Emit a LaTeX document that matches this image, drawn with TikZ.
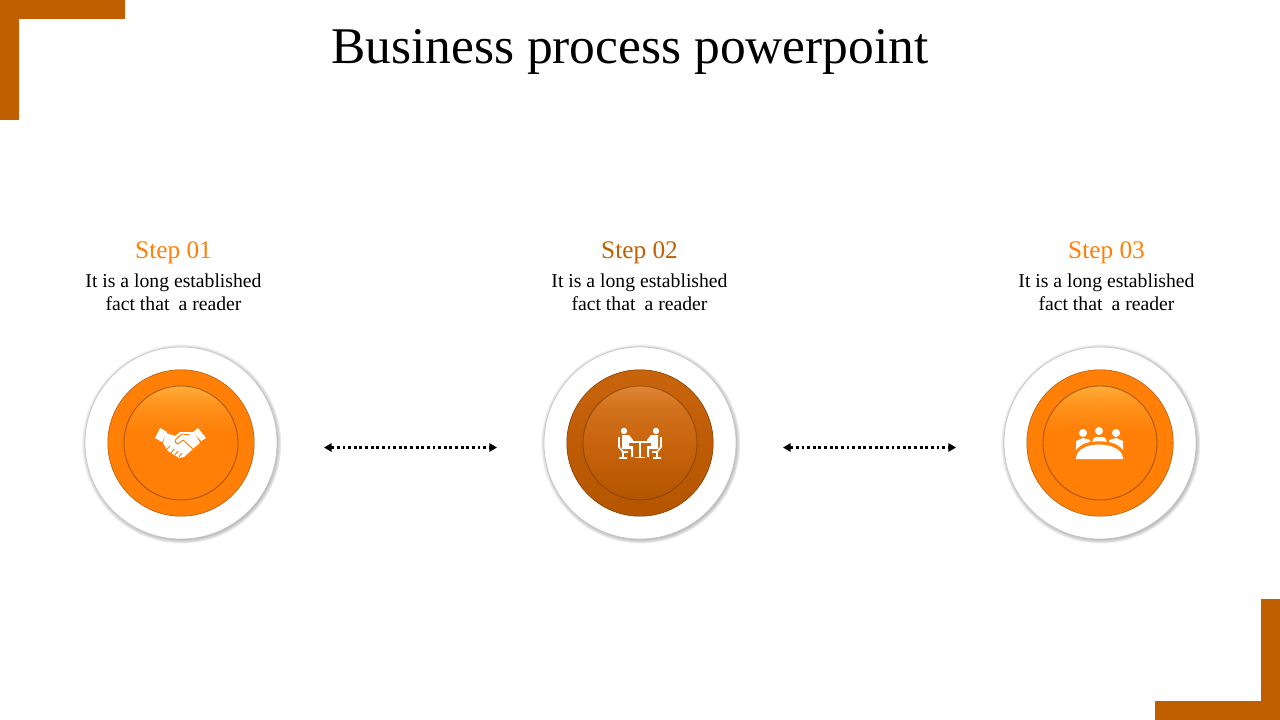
\documentclass[tikz,border=0pt]{standalone}
\usepackage{fontspec}
\setmainfont{Liberation Serif}
\usetikzlibrary{arrows.meta,shadows}
\definecolor{rust}{HTML}{C05F00}
\definecolor{amber}{HTML}{FF7F07}
\definecolor{amberlight}{HTML}{FFAE3A}
\definecolor{rustlight}{HTML}{E08534}
\definecolor{rustmid}{HTML}{C8640C}
\definecolor{rustdark}{HTML}{B55500}
\pgfdeclareverticalshading{knobamber}{100bp}{color(0bp)=(amber); color(25bp)=(amber); color(55bp)=(amber); color(68bp)=(amber!55!amberlight); color(75bp)=(amberlight); color(100bp)=(amberlight)}
\pgfdeclareverticalshading{knobrust}{100bp}{color(0bp)=(rustdark); color(25bp)=(rustdark); color(50bp)=(rustmid); color(65bp)=(rustmid!60!rustlight); color(75bp)=(rustlight); color(100bp)=(rustlight)}
\tikzset{
    plate/.style={circle, fill=white, draw=black!22, line width=0.5pt, minimum size=4.8cm,
        circular drop shadow={shadow xshift=0.3pt, shadow yshift=-0.5pt, shadow scale=1.04, opacity=0.8, fill=black}},
    ring/.style={circle, minimum size=3.66cm, draw=#1!70!black, line width=0.4pt},
    knob/.style={circle, minimum size=2.85cm, draw=rust!55!black, draw opacity=0.6, line width=0.6pt},
    steptitle/.style={font=\fontsize{18}{21}\selectfont},
    steptext/.style={font=\fontsize{14}{16.3}\selectfont, align=center, text=black},
    link/.style={line width=2.1pt, dash pattern=on 2.1pt off 1.9pt, {Triangle[length=5.5pt,width=6pt]}-{Triangle[length=5.5pt,width=6pt]}},
    icon/.style={fill=white, draw=none}
}
\begin{document}
\begin{tikzpicture}[x=0.025cm, y=-0.025cm]
        \useasboundingbox (0,0) rectangle (1280,720);
        \fill [rust] (0,0) -- (125,0) -- (125,19) -- (19,19) -- (19,120) -- (0,120) -- cycle;
        \fill [rust] (1280,720) -- (1155,720) -- (1155,701) -- (1261,701) -- (1261,599) -- (1280,599) -- cycle;
        \node (title) at (630,52) {\fontsize{36.6}{42}\selectfont Business process powerpoint};

        \foreach \name/\x/\tx/\num/\tone in {one/181/173.5/01/amber, two/640/639.5/02/rust, three/1100/1106.5/03/amber} {
            \node [steptitle, text=\tone] (title\name) at (\tx,252.5) {Step \num};
            \node [steptext] (text\name) at (\tx,292.5) {It is a long established\\fact that\hspace{3pt} a reader};
            \node [plate] (plate\name) at (\x,443) {};
        }
        \foreach \name/\top/\low/\mk/\shd in {one/amber/amber/amber/knobamber, three/amber/amber/amber/knobamber, two/rustmid/rustdark/rustdark/knobrust} {
            \node [ring=\mk, top color=\top, bottom color=\low] (ring\name) at (plate\name.center) {};
            \node [knob, shading=\shd] (knob\name) at (plate\name.center) {};
        }

        \begin{scope}[shift={(knobone.center)}]
            \fill [icon] (-21,-15) -- (-14,-11) -- (-19,-1) -- (-26,-5) -- cycle;
            \fill [icon] (17,-15) -- (25,-5) -- (20,-2) -- (12,-11) -- cycle;
            \fill [icon] (-15,-10) -- (-6,-7) -- (-1,-11) -- (13,-11) -- (19,0) -- (14,4) -- (3,14) -- (-2,15) -- (-13,8) -- (-18,0) -- cycle;
            \draw [amber, line width=0.7pt, line join=round] (-6,-1) -- (-5,-4) -- (1,-9) -- (9,-8);
            \draw [amber, line width=0.7pt, line join=round] (-6,-1) -- (-3,1) -- (2,-3) -- (12,6);
            \draw [amber, line width=0.7pt] (-11,3) -- (-14,6) (-7,6) -- (-10,10) (-3,8) -- (-6,12) (1,10) -- (-2,14);
        \end{scope}

        \begin{scope}[shift={(knobtwo.center)}]
            \fill [icon] (-16,-12) circle (3.2) (16,-12) circle (3.2);
            \fill [icon] (-18,-8) -- (-11,-8) -- (-7,-3) -- (-7,-1) -- (-11,-1) -- (-11,3) -- (-7,3) -- (-7,14) -- (-9,14) -- (-9,6) -- (-18,6) -- cycle;
            \fill [icon] (18,-8) -- (11,-8) -- (7,-3) -- (7,-1) -- (11,-1) -- (11,3) -- (7,3) -- (7,14) -- (9,14) -- (9,6) -- (18,6) -- cycle;
            \draw [white, line width=1.2pt] (-21,-6) -- (-21,4) -- (-17,9) -- (-12,9) (-17,9) -- (-17,15) (-21,15) -- (-13,15);
            \draw [white, line width=1.2pt] (21,-6) -- (21,4) -- (17,9) -- (12,9) (17,9) -- (17,15) (21,15) -- (13,15);
            \draw [white, line width=1.2pt] (-11,-1) -- (11,-1) (0,-1) -- (0,14) (-5,14.5) -- (5,14.5);
        \end{scope}

        \begin{scope}[shift={(knobthree.center)}]
            \fill [icon] (-17,-10) circle (4) (-1,-12) circle (4) (16,-10) circle (4);
            \fill [icon] (-24,16) .. controls (-24,6) and (-12,1.5) .. (-1,1.5) .. controls (10,1.5) and (23,6) .. (23,16) -- cycle;
            \fill [icon] (-24,7) -- (-24,-2) -- (-17,-5) -- (-10,-3) -- (-10,-1) .. controls (-16,0) and (-21,3) .. (-24,7) -- cycle;
            \fill [icon] (23,7) -- (23,-2) -- (16,-5) -- (9,-3) -- (9,-1) .. controls (15,0) and (20,3) .. (23,7) -- cycle;
            \fill [icon] (-8,-1) -- (-6,-5) -- (-4,-6) -- (3,-6) -- (5,-5) -- (7,-1) .. controls (2,-2) and (-3,-2) .. (-8,-1) -- cycle;
        \end{scope}

        \coordinate (linkaleft) at (324,447.5);
        \coordinate (linkaright) at (497,447.5);
        \coordinate (linkbleft) at (783,447.5);
        \coordinate (linkbright) at (956,447.5);
        \draw [link] (linkaleft) -- (linkaright);
        \draw [link] (linkbleft) -- (linkbright);
    \end{tikzpicture}
\end{document}
